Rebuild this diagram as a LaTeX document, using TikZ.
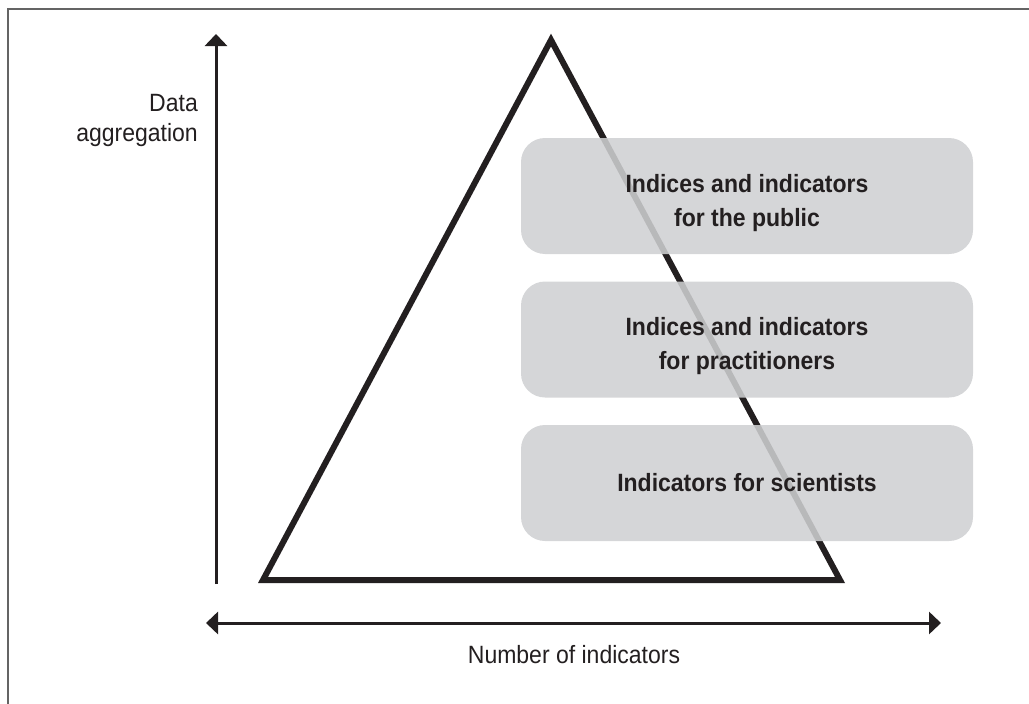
\documentclass[tikz,border=0pt]{standalone}
\usepackage{fontspec}
\setmainfont[FakeStretch=0.92]{Liberation Sans}
\usetikzlibrary{arrows.meta}
\definecolor{ink}{RGB}{35,31,32}
\definecolor{boxgray}{RGB}{207,208,210}
\definecolor{framegray}{RGB}{100,100,100}
\begin{document}
\begin{tikzpicture}[x=1pt,y=-1pt,
  axis/.style={draw=ink,line width=3pt,-{Triangle[length=12pt,width=22pt]}},
  both/.style={draw=ink,line width=3pt,{Triangle[length=12pt,width=22pt]}-{Triangle[length=12pt,width=22pt]}},
  tri/.style={draw=ink,line width=6pt,line join=miter},
  box/.style={rounded corners=24pt,minimum width=452pt,minimum height=116pt,inner sep=0pt,
    fill=boxgray,fill opacity=0.87},
  boxtext/.style={text=ink,inner sep=0pt,align=center,
    font=\fontsize{25}{34}\selectfont\bfseries},
  lab/.style={text=ink,inner sep=0pt}]
\useasboundingbox (0,0) rectangle (1029,704);
\draw[framegray,line width=1.3pt] (8,9) rectangle (1060,740);
% triangle
\coordinate (A) at (551,40);
\coordinate (B) at (263,580);
\coordinate (C) at (840,580);
\draw[tri] (B) -- (A) -- (C) -- cycle;
% axes
\coordinate (v0) at (216,584);
\coordinate (v1) at (216,34);
\draw[axis] (v0) -- (v1);
\coordinate (h0) at (206,623);
\coordinate (h1) at (941,623);
\draw[both] (h0) -- (h1);
% boxes
\node[box] (pub) at (747,196) {};
\node[box] (prac) at (747,339.5) {};
\node[box] (sci) at (747,483) {};
\node[boxtext] (pubt) at ([yshift=-7pt]pub.center) {Indices and indicators\\for the public};
\node[boxtext] (pract) at ([yshift=-7pt]prac.center) {Indices and indicators\\for practitioners};
\node[boxtext] (scit) at (sci.center) {Indicators for scientists};
% labels
\node[lab,anchor=north east,align=right,font=\fontsize{25}{30}\selectfont] (agg) at (198,94) {Data\\aggregation};
\node[lab,anchor=base,font=\fontsize{25}{28}\selectfont] (num) at (574,663) {Number of indicators};
\end{tikzpicture}
\end{document}
